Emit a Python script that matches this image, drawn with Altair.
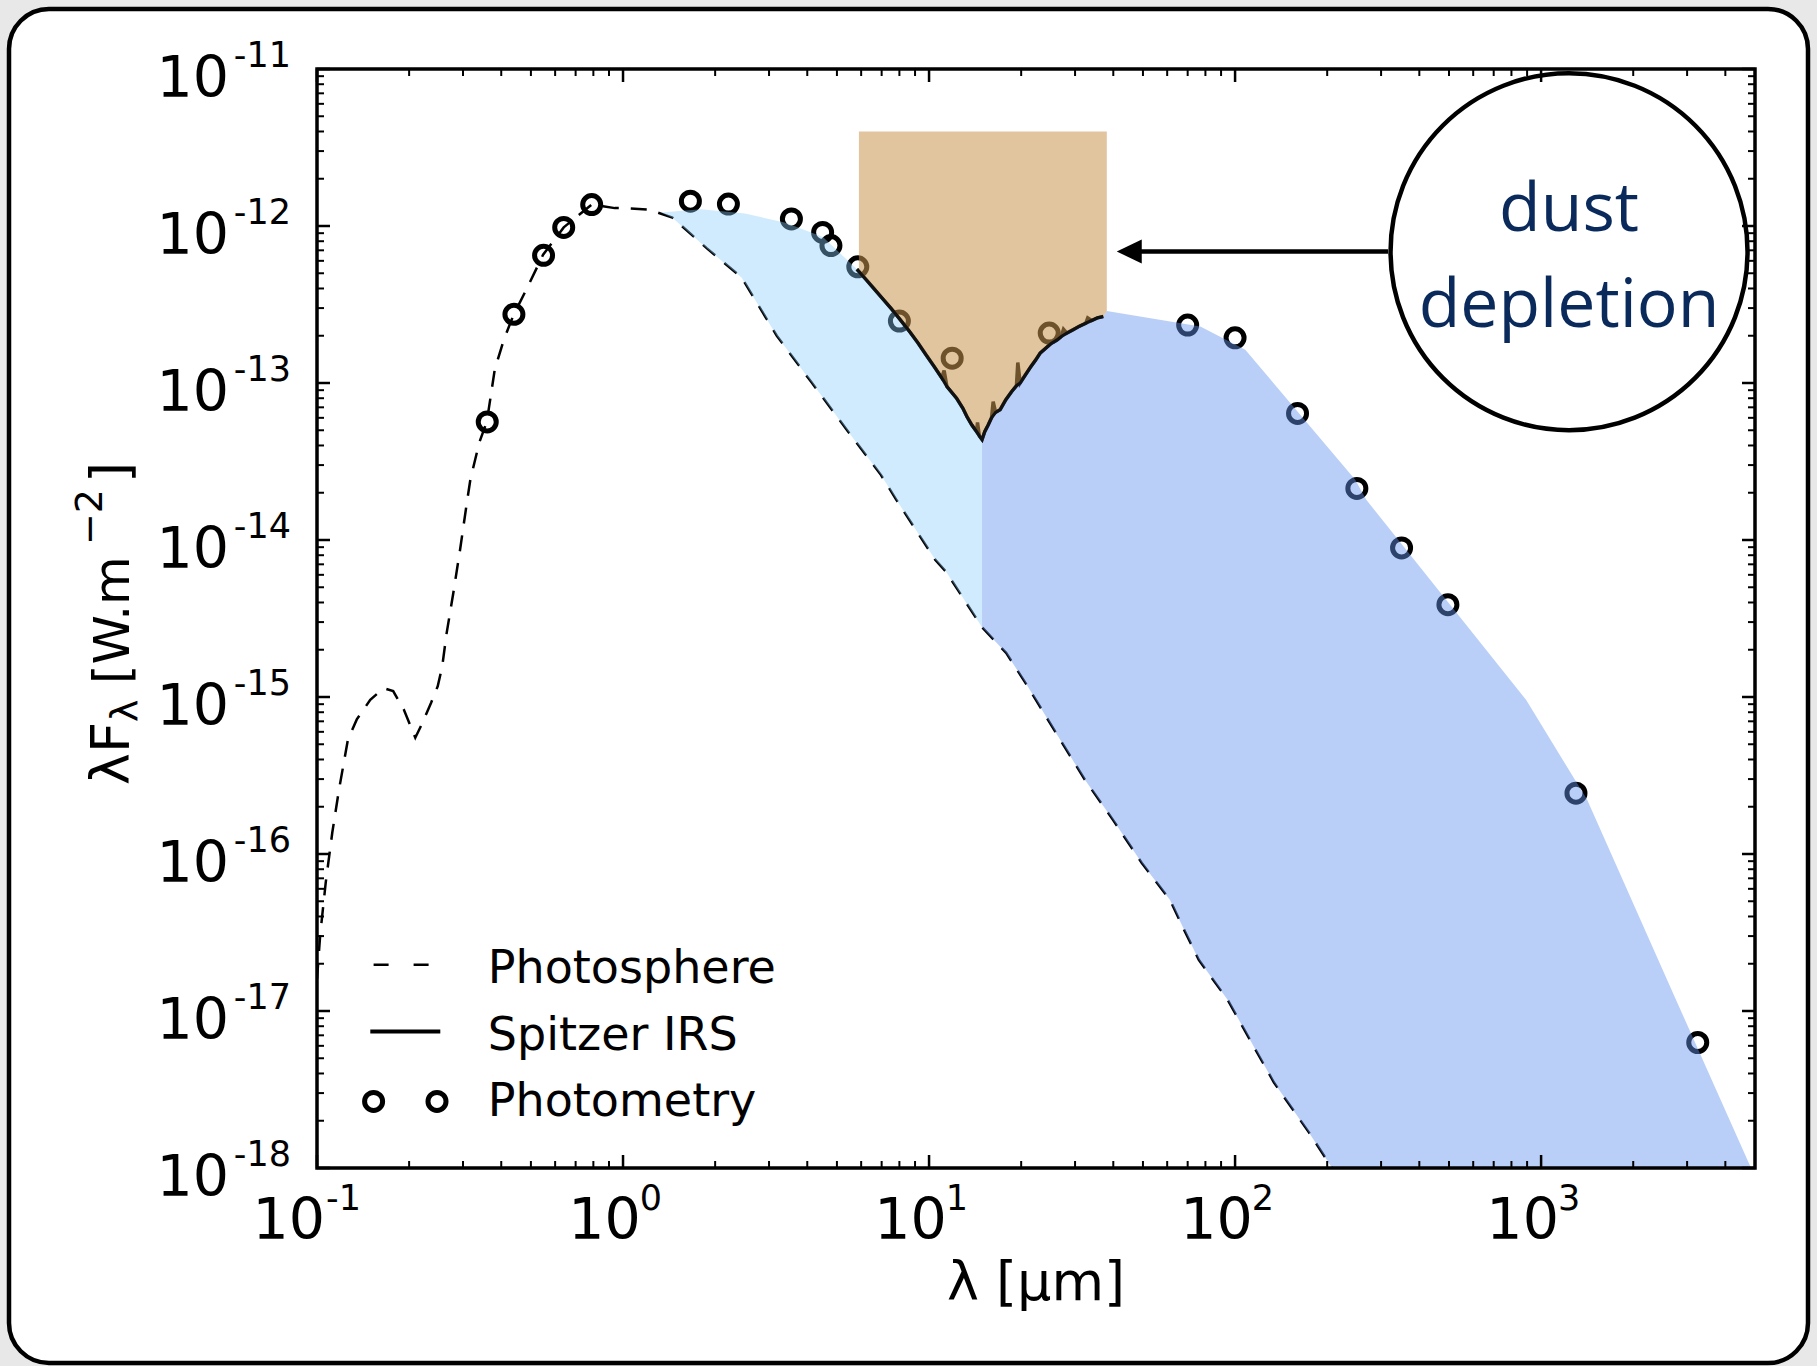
import altair as alt
import pandas as pd

# ---------------- layout ----------------
W, H = 1438, 1099
PAD = {"left": 317, "top": 69, "right": 62, "bottom": 198}
FONT = "DejaVu Sans"

# ---------------- data ----------------
# Photosphere model (dashed)
phot_lam = [0.1, 0.1025, 0.1068, 0.1122, 0.118, 0.1262, 0.1349, 0.1493, 0.1651, 0.1774,
            0.1923, 0.2095, 0.2207, 0.236, 0.248, 0.2566, 0.2653, 0.2789, 0.2935, 0.3087,
            0.317, 0.339, 0.359, 0.381, 0.408, 0.439, 0.483, 0.548, 0.64, 0.79,
            0.94, 1.0, 1.22, 1.45, 1.88, 2.44, 3.18, 4.13, 5.36, 6.96,
            7.81, 10.47, 11.35, 14.9, 17.86, 21.0, 26.0, 32.3, 39.9, 49.5,
            61.3, 68.1, 76.1, 94.5, 134.0, 174.5, 207.5]
phot_flux = [1.6e-17, 3.1e-17, 6.6e-17, 1.37e-16, 2.57e-16, 5.35e-16, 7.2e-16, 9.6e-16, 1.14e-15, 1.09e-15,
             8.3e-16, 5.5e-16, 6.8e-16, 9.2e-16, 1.17e-15, 1.57e-15, 2.56e-15, 4.6e-15, 8.7e-15, 1.72e-14,
             2.42e-14, 4.17e-14, 5.69e-14, 1.22e-13, 1.89e-13, 2.72e-13, 3.93e-13, 6.56e-13, 9.8e-13, 1.37e-12,
             1.3e-12, 1.3e-12, 1.27e-12, 1.13e-12, 7.2e-13, 4.7e-13, 2.0e-13, 1.01e-13, 5.1e-14, 2.6e-14,
             1.81e-14, 7.5e-15, 6.3e-15, 2.78e-15, 1.91e-15, 1.17e-15, 5.9e-16, 2.97e-16, 1.65e-16, 8.8e-17,
             5.1e-17, 3.3e-17, 2.12e-17, 1.18e-17, 3.5e-18, 1.68e-18, 1.0e-18]

# Spitzer IRS spectrum (solid)
irs_lam = [5.81, 6.2, 6.6, 7.0, 7.5, 8.05, 8.6, 9.2, 9.8, 10.4,
           11.0, 11.2, 11.44, 12.3, 12.9, 13.29, 13.8, 14.3, 14.4, 14.6,
           14.9, 15.2, 15.6, 16.0, 16.2, 16.5, 17.07, 17.8, 18.6, 19.3,
           19.5, 19.85, 20.6, 21.5, 22.3, 23.07, 24.0, 25.0, 26.2, 27.0,
           27.5, 28.2, 29.5, 31.0, 32.5, 33.0, 34.0, 35.5, 37.1]
irs_flux = [5.3e-13, 4.6e-13, 4.0e-13, 3.5e-13, 3.0e-13, 2.53e-13, 2.15e-13, 1.8e-13, 1.5e-13, 1.27e-13,
            1.08e-13, 1.2e-13, 9.5e-14, 8.0e-14, 6.9e-14, 6.12e-14, 5.4e-14, 4.9e-14, 5.6e-14, 4.6e-14,
            4.36e-14, 4.9e-14, 5.4e-14, 6.0e-14, 7.6e-14, 6.5e-14, 6.76e-14, 7.8e-14, 8.8e-14, 9.6e-14,
            1.35e-13, 1.0e-13, 1.12e-13, 1.27e-13, 1.4e-13, 1.55e-13, 1.66e-13, 1.78e-13, 1.88e-13, 1.97e-13,
            2.2e-13, 2.08e-13, 2.18e-13, 2.3e-13, 2.4e-13, 2.6e-13, 2.5e-13, 2.6e-13, 2.65e-13]
# wavelengths of the noise spikes in the spectrum
irs_spikes = [11.2, 14.4, 16.2, 19.5, 27.5, 33.0]

# Photometry (open circles)
obs_lam = [0.36, 0.44, 0.55, 0.64, 0.79, 1.66, 2.21, 3.55, 4.49, 4.78, 5.85,
           8.0, 11.9, 24.7, 70.0, 100.0, 160.0, 250.0, 350.0, 496.0, 1300.0, 3250.0]
obs_flux = [5.65e-14, 2.74e-13, 6.5e-13, 9.8e-13, 1.37e-12, 1.44e-12, 1.38e-12, 1.11e-12, 9.1e-13, 7.5e-13, 5.5e-13,
            2.48e-13, 1.44e-13, 2.08e-13, 2.34e-13, 1.94e-13, 6.4e-14, 2.13e-14, 8.9e-15, 3.87e-15, 2.44e-16, 6.3e-18]

# Upper envelope of the excess (near-IR part, light blue) and far-IR part (blue)
env_near_lam = [1.33, 1.8, 2.5, 3.4, 4.5, 5.0]
env_near_flux = [1.22e-12, 1.28e-12, 1.2e-12, 1.05e-12, 8.5e-13, 7.0e-13]
env_far_lam = [38.1, 77.0, 108.0, 247.0, 268.0, 893.0, 1413.0, 2759.0, 4853.0]
env_far_flux = [2.88e-13, 2.29e-13, 1.63e-13, 2.42e-14, 1.81e-14, 9.6e-16, 2.22e-16, 1.18e-17, 1.0e-18]
split_lam = 14.9

# Dust-depletion band
gap_lam = [5.9, 38.1]
gap_top = 4.0e-12
gap_left_flux = 5.15e-13

# Axes
x_ticks = [0.1, 1.0, 10.0, 100.0, 1000.0]
x_exps = ["-1", "0", "1", "2", "3"]
x_pow = [-1, 0, 1, 2, 3]
y_ticks = [1e-18, 1e-17, 1e-16, 1e-15, 1e-14, 1e-13, 1e-12, 1e-11]
y_exps = ["-18", "-17", "-16", "-15", "-14", "-13", "-12", "-11"]
x_minor = [m * 10.0 ** e for e in range(-1, 4) for m in range(2, 10) if m * 10.0 ** e <= 5000]
y_minor = [m * 10.0 ** e for e in range(-18, -11) for m in range(2, 10)]

legend_labels = ["Photosphere", "Spitzer IRS", "Photometry"]
annot_lines = ["dust", "depletion"]
annot_lam = 1234.0
annot_flux = [9.25e-13, 2.29e-13]
circle_flux = 6.86e-13
arrow_lam = [45.1, 316.0]
arrow_flux = 6.88e-13

# ---------------- scales ----------------
xs = alt.Scale(type="log", domain=[0.1, 5000], nice=False)
ys = alt.Scale(type="log", domain=[1e-18, 1e-11], nice=False)


def X(f="lam"):
    return alt.X(f + ":Q", scale=xs, axis=None)


def Y(f="F"):
    return alt.Y(f + ":Q", scale=ys, axis=None)


def poly(pts):
    return pd.DataFrame({"lam": [p[0] for p in pts], "F": [p[1] for p in pts],
                         "i": list(range(len(pts)))})


phot = list(zip(phot_lam, phot_flux))
irs = [p for p in zip(irs_lam, irs_flux) if p[0] not in irs_spikes]

light_pts = (list(zip(env_near_lam, env_near_flux))
             + [p for p in irs if p[0] <= split_lam]
             + [p for p in reversed(phot) if env_near_lam[0] < p[0] <= split_lam])
medium_pts = ([p for p in irs if p[0] >= split_lam]
              + list(zip(env_far_lam, env_far_flux))
              + [p for p in reversed(phot) if p[0] >= split_lam])
tan_pts = ([(gap_lam[0], gap_top), (gap_lam[1], gap_top), (gap_lam[1], env_far_flux[0])]
           + [p for p in reversed(irs) if p[0] > gap_lam[0]]
           + [(gap_lam[0], gap_left_flux)])


def fill_layer(pts, color, opacity):
    return alt.Chart(poly(pts)).mark_line(
        fill=color, fillOpacity=opacity, stroke="transparent", strokeWidth=0, clip=True
    ).encode(x=X(), y=Y(), order=alt.Order("i:Q"))


one = pd.DataFrame({"k": [0]})

# outer rounded frame
outer = alt.Chart(one).mark_rect(fill="white", stroke="black", strokeWidth=4.5, cornerRadius=40).encode(
    x=alt.value(-308), x2=alt.value(1491), y=alt.value(-60), y2=alt.value(1294))

phot_df = pd.DataFrame({"lam": phot_lam, "F": phot_flux})
irs_df = pd.DataFrame({"lam": irs_lam, "F": irs_flux})
irs_smooth_df = pd.DataFrame({"lam": [p[0] for p in irs], "F": [p[1] for p in irs]})
obs_df = pd.DataFrame({"lam": obs_lam, "F": obs_flux})

phot_line = alt.Chart(phot_df).mark_line(color="black", strokeWidth=2.5, strokeDash=[16, 12], clip=True).encode(
    x=X(), y=Y())
irs_line = alt.Chart(irs_df).mark_line(color="black", strokeWidth=3.5, clip=True).encode(x=X(), y=Y())
irs_top = alt.Chart(irs_smooth_df).mark_line(color="#111111", strokeWidth=3.2, clip=True).encode(x=X(), y=Y())
obs_pts = alt.Chart(obs_df).mark_point(shape="circle", size=324, filled=False, strokeWidth=5,
                                       color="black", opacity=1).encode(x=X(), y=Y())

light_fill = fill_layer(light_pts, "#87cefa", 0.4)
medium_fill = fill_layer(medium_pts, "#6495ed", 0.45)
tan_fill = fill_layer(tan_pts, "#c8964f", 0.55)

# ---------------- ticks (inside, all four sides) ----------------
tick_layers = []
for vals, length, sw in [(x_ticks, 13, 2.5), (x_minor, 7, 2)]:
    d = alt.Chart(pd.DataFrame({"v": vals})).mark_rule(color="black", strokeWidth=sw)
    tick_layers.append(d.encode(x=X("v"), y=alt.value(H), y2=alt.value(H - length)))
    tick_layers.append(d.encode(x=X("v"), y=alt.value(0), y2=alt.value(length)))
for vals, length, sw in [(y_ticks, 13, 2.5), (y_minor, 7, 2)]:
    d = alt.Chart(pd.DataFrame({"v": vals})).mark_rule(color="black", strokeWidth=sw)
    tick_layers.append(d.encode(y=Y("v"), x=alt.value(0), x2=alt.value(length)))
    tick_layers.append(d.encode(y=Y("v"), x=alt.value(W), x2=alt.value(W - length)))

frame = alt.Chart(one).mark_rect(fillOpacity=0, stroke="black", strokeWidth=3.5).encode(
    x=alt.value(0), x2=alt.value(W), y=alt.value(0), y2=alt.value(H))

# ---------------- tick labels ----------------
ylab_df = pd.DataFrame({"v": y_ticks, "base": ["10"] * len(y_ticks), "exp": y_exps})
ylab_base = alt.Chart(ylab_df).mark_text(align="right", baseline="alphabetic", font=FONT, fontSize=57,
                                         dx=-88, dy=28, color="black").encode(
    y=Y("v"), x=alt.value(0), text="base:N")
ylab_exp = alt.Chart(ylab_df).mark_text(align="right", baseline="alphabetic", font=FONT, fontSize=35,
                                        dx=-26, dy=-2, color="black").encode(
    y=Y("v"), x=alt.value(0), text="exp:N")

xlab_df = pd.DataFrame({"v": x_ticks, "base": ["10"] * len(x_ticks), "exp": x_exps, "e": x_pow})
xlab_layers = []
for cond, dxb, dxe in [("datum.e < 0", 8, 9), ("datum.e >= 0", 17.8, 16.8)]:
    b = alt.Chart(xlab_df).transform_filter(cond)
    xlab_layers.append(b.mark_text(align="right", baseline="alphabetic", font=FONT, fontSize=57,
                                   dx=dxb, dy=71, color="black").encode(
        x=X("v"), y=alt.value(H), text="base:N"))
    xlab_layers.append(b.mark_text(align="left", baseline="alphabetic", font=FONT, fontSize=35,
                                   dx=dxe, dy=41.7, color="black").encode(
        x=X("v"), y=alt.value(H), text="exp:N"))

# ---------------- axis titles ----------------
x_title = alt.Chart(one).mark_text(align="center", baseline="alphabetic", font=FONT, fontSize=54,
                                   color="black").encode(
    x=alt.value(W / 2), y=alt.value(H + 132), text=alt.value("λ [μm]"))

y_title_layers = []
for txt, dx, dy, fs in [("λF", 0, 0, 54), ("λ", 63, 8, 38), ("[W.m", 101, 0, 50),
                        ("−2", 240, -27, 38), ("]", 302, 0, 54)]:
    y_title_layers.append(alt.Chart(one).mark_text(angle=270, align="left", baseline="alphabetic",
                                                   font=FONT, fontSize=fs, dx=dx, dy=dy,
                                                   color="black").encode(
        x=alt.value(-188), y=alt.value(716), text=alt.value(txt)))

# ---------------- legend ----------------
leg_layers = [
    alt.Chart(one).mark_rule(color="black", strokeWidth=2.5, strokeDash=[15, 25]).encode(
        x=alt.value(56.6), x2=alt.value(111.6), y=alt.value(895.7)),
    alt.Chart(one).mark_rule(color="black", strokeWidth=4).encode(
        x=alt.value(53.3), x2=alt.value(123.3), y=alt.value(962.4)),
    alt.Chart(one).mark_point(shape="circle", size=324, filled=False, strokeWidth=5, color="black",
                              opacity=1).encode(x=alt.value(56.6), y=alt.value(1032.4)),
    alt.Chart(one).mark_point(shape="circle", size=324, filled=False, strokeWidth=5, color="black",
                              opacity=1).encode(x=alt.value(120), y=alt.value(1032.4)),
]
for lab, yb in zip(legend_labels, [914, 980.7, 1047.4]):
    leg_layers.append(alt.Chart(one).mark_text(align="left", baseline="alphabetic", font=FONT,
                                               fontSize=46, color="black").encode(
        x=alt.value(170.8), y=alt.value(yb), text=alt.value(lab)))

# ---------------- annotation ----------------
arrow_df = pd.DataFrame({"lam": [arrow_lam[0]], "lam2": [arrow_lam[1]], "F": [arrow_flux]})
arrow_line = alt.Chart(arrow_df).mark_rule(color="black", strokeWidth=4.5).encode(
    x=X("lam"), x2="lam2:Q", y=Y("F"))
arrow_head = alt.Chart(arrow_df).mark_point(shape="M-1,0L1,-0.96L1,0.96Z", size=625, filled=True,
                                            color="black", opacity=1).encode(x=X("lam"), y=Y("F"))
circ_df = pd.DataFrame({"lam": [annot_lam], "F": [circle_flux]})
circle = alt.Chart(circ_df).mark_point(shape="circle", size=127449, filled=False, strokeWidth=4.5,
                                       color="black", opacity=1).encode(x=X("lam"), y=Y("F"))
annot_df = pd.DataFrame({"lam": [annot_lam] * 2, "F": annot_flux, "t": annot_lines})
annot_text = alt.Chart(annot_df).mark_text(align="center", baseline="alphabetic", font="Open Sans",
                                           fontSize=68, color="#0a2a5c").encode(
    x=X("lam"), y=Y("F"), text="t:N")

chart = alt.layer(
    outer, phot_line, irs_line, obs_pts, light_fill, medium_fill, tan_fill, irs_top,
    *tick_layers, frame, ylab_base, ylab_exp, *xlab_layers, x_title, *y_title_layers,
    *leg_layers, arrow_line, arrow_head, circle, annot_text
).properties(
    width=W, height=H, background="#e8e8e8", padding=PAD,
    autosize=alt.AutoSizeParams(type="none")
).configure_view(stroke="transparent")

chart.save("out.html", embed_options={"renderer": "svg", "actions": False})
